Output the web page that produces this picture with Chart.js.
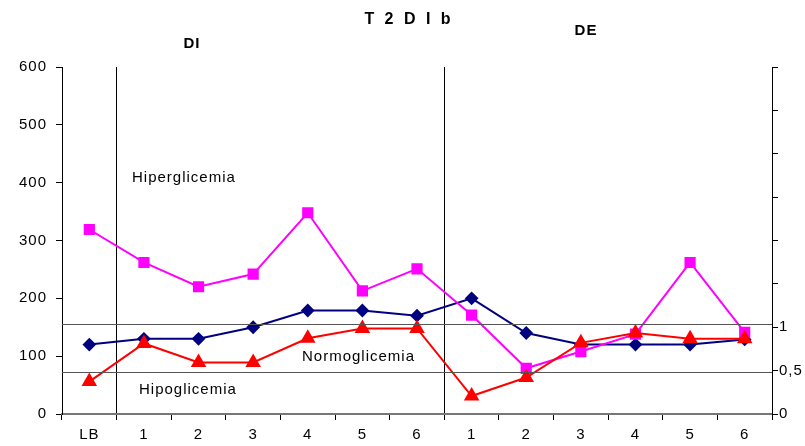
<!DOCTYPE html>
<html>
<head>
<meta charset="utf-8">
<script src="https://cdn.jsdelivr.net/npm/chart.js@4.4.0/dist/chart.umd.min.js"></script>
<style>
  html, body { margin: 0; background: #fff; }
  #wrap { width: 805px; height: 446px; }
</style>
</head>
<body>
<div id="wrap"><canvas id="c"></canvas></div>
<script>
// categories (LB, then DI 1-6, then DE 1-6)
const labels = ['LB', '1', '2', '3', '4', '5', '6', '1', '2', '3', '4', '5', '6'];
// series
const hiperValues = [319, 262, 220, 242, 348, 213, 251, 171, 79, 108, 138, 262, 141];
const mediaValues = [120, 130, 130, 150, 179, 179, 170, 200, 140, 120, 120, 120, 129];
const hipoValues  = [56, 122, 89, 89, 131, 148, 148, 31, 63, 123, 140, 130, 130];
// horizontal limit lines (left axis units)
const limitLines = [73, 156];
// right axis: only these get a label
const rightLabels = { 0: '0', 0.5: '0,5', 1: '1' };
const dividers = [1, 7]; // grid line index that separates LB | DI | DE

const FONT = '"Liberation Sans", Arial, sans-serif';

const overlay = {
  id: 'overlay',
  beforeDraw(chart) {
    chart.ctx.letterSpacing = '1px';
  },
  afterDraw(chart) {
    const { ctx, chartArea, scales } = chart;
    ctx.save();
    // limit lines
    ctx.strokeStyle = '#555';
    ctx.lineWidth = 1;
    limitLines.forEach(v => {
      const y = Math.round(scales.y.getPixelForValue(v)) + 0.5;
      ctx.beginPath();
      ctx.moveTo(chartArea.left, y);
      ctx.lineTo(chartArea.right, y);
      ctx.stroke();
    });
    ctx.fillStyle = '#000';
    ctx.textBaseline = 'middle';
    ctx.font = '15px ' + FONT;
    ctx.letterSpacing = '1px';
    ctx.textAlign = 'left';
    ctx.fillText('Hiperglicemia', 132, 178);
    ctx.fillText('Normoglicemia', 302, 357);
    ctx.fillText('Hipoglicemia', 139, 390);
    ctx.font = 'bold 15px ' + FONT;
    ctx.textAlign = 'center';
    ctx.fillText('DI', 192, 44);
    ctx.fillText('DE', 586, 31);
    ctx.font = 'bold 16px ' + FONT;
    ctx.letterSpacing = '3px';
    ctx.fillText('T 2 D I b', 409, 20);
    ctx.restore();
  }
};

new Chart(document.getElementById('c'), {
  type: 'line',
  data: {
    labels,
    datasets: [
      {
        label: 'Hipo',
        data: hipoValues,
        borderColor: '#ff0000',
        backgroundColor: '#ff0000',
        borderWidth: 2,
        pointStyle: 'triangle',
        pointRadius: 7,
        tension: 0
      },
      {
        label: 'Hiper',
        data: hiperValues,
        borderColor: '#ff00ff',
        backgroundColor: '#ff00ff',
        borderWidth: 2,
        pointStyle: 'rect',
        pointRadius: 6.5,
        tension: 0
      },
      {
        label: 'Media',
        data: mediaValues,
        borderColor: '#000080',
        backgroundColor: '#000080',
        borderWidth: 2,
        pointStyle: 'rectRot',
        pointRadius: 5.5,
        tension: 0
      }
    ]
  },
  options: {
    responsive: true,
    maintainAspectRatio: false,
    animation: false,
    layout: { padding: { top: 67, left: 0, right: 0, bottom: 0 } },
    plugins: { legend: { display: false }, tooltip: { enabled: false } },
    scales: {
      x: {
        offset: true,
        border: { color: '#777', width: 2 },
        grid: {
          offset: true,
          drawOnChartArea: true,
          color: ctx => dividers.includes(ctx.index) ? '#000' : 'rgba(0,0,0,0)',
          tickColor: '#000',
          tickLength: 6
        },
        ticks: { color: '#000', font: { family: FONT, size: 15 }, padding: 6, maxRotation: 0, autoSkip: false },
        afterFit(scale) { scale.height = 32; }
      },
      y: {
        position: 'left',
        min: 0, max: 600,
        border: { color: '#000', width: 1 },
        grid: { drawOnChartArea: false, tickColor: '#000', tickLength: 6 },
        ticks: { stepSize: 100, color: '#000', font: { family: FONT, size: 15 }, padding: 9 },
        afterFit(scale) { scale.width = 62; }
      },
      y1: {
        position: 'right',
        min: 0, max: 4,
        border: { color: '#000', width: 1 },
        grid: { drawOnChartArea: false, tickColor: '#000', tickLength: 6 },
        ticks: {
          stepSize: 0.5,
          color: '#000',
          font: { family: FONT, size: 15 },
          padding: 1,
          callback: v => rightLabels[v] !== undefined ? rightLabels[v] : ''
        },
        afterFit(scale) { scale.width = 33; }
      }
    }
  },
  plugins: [overlay]
});
</script>
</body>
</html>
